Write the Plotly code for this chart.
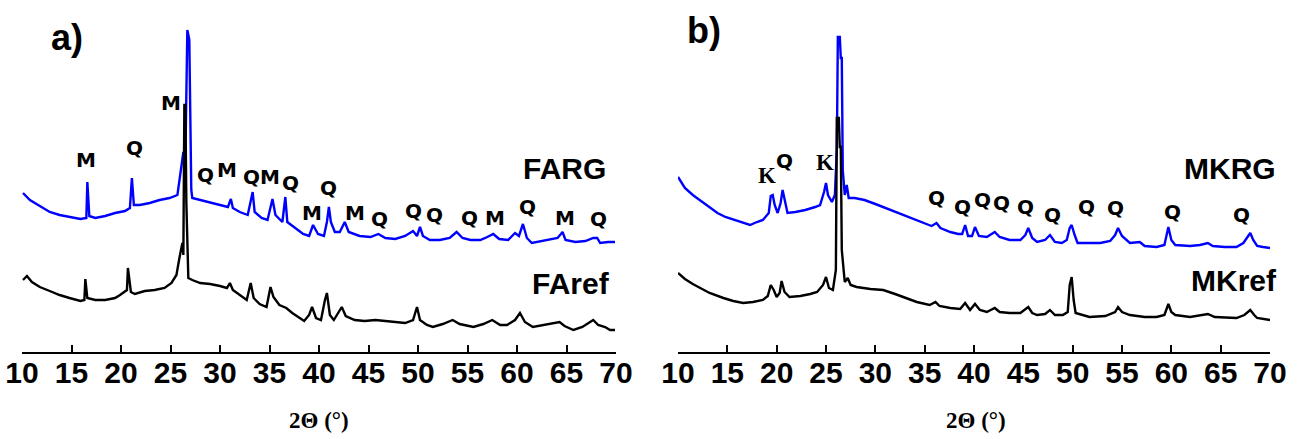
import plotly.graph_objects as go

# ---------------- data (2θ in degrees, intensity in a.u.) ----------------
farg_x = [10.1, 10.8, 11.8, 12.8, 13.8, 14.8, 15.9, 16.5, 16.6, 16.8, 17.4, 18.4, 19.4, 20.4, 20.9, 21.1, 21.3,
          21.9, 22.9, 23.9, 24.9, 25.7, 26.0, 26.3, 26.5, 26.6, 26.7, 26.9, 27.0, 27.1, 27.2, 28.0, 29.0, 30.0,
          30.8, 31.1, 31.3, 32.0, 32.8, 33.3, 33.5, 34.2, 34.8, 35.3, 35.6, 36.3, 36.6, 36.8, 37.6, 38.4, 39.0,
          39.4, 39.9, 40.5, 40.8, 41.0, 41.2, 41.6, 42.1, 42.6, 43.0, 44.1, 45.2, 46.0, 46.7, 47.7, 48.7, 49.5,
          49.9, 50.2, 50.5, 51.2, 52.2, 53.2, 53.9, 54.5, 55.3, 56.3, 57.0, 57.6, 58.2, 59.1, 59.8, 60.2, 60.6,
          61.0, 61.5, 62.5, 63.5, 64.1, 64.6, 64.9, 65.9, 66.9, 67.7, 68.1, 68.4, 69.2, 69.9]
farg_y = [159, 152, 146, 140, 137, 135, 133, 134, 170, 136, 134, 136, 139, 141, 144, 174, 147,
          147, 149, 152, 154, 157, 180, 200, 192, 252, 322, 312, 200, 162, 154, 152, 150, 147,
          145, 153, 144, 140, 137, 160, 140, 134, 132, 153, 137, 130, 155, 130, 124, 118, 116,
          127, 118, 116, 130, 145, 130, 120, 120, 130, 120, 116, 115, 118, 114, 113, 116, 121,
          116, 125, 116, 112, 112, 114, 120, 114, 112, 112, 115, 118, 113, 112, 119, 116, 128,
          114, 109, 111, 113, 114, 120, 112, 110, 111, 114, 114, 109, 110, 110]

faref_x = [10.1, 10.5, 11.0, 11.8, 12.8, 13.8, 14.8, 15.9, 16.3, 16.4, 16.6, 17.4, 18.4, 19.4, 19.9, 20.6,
           20.7, 21.0, 21.4, 22.4, 23.4, 24.4, 25.1, 25.6, 25.9, 26.2, 26.3, 26.4, 26.5, 26.6, 26.8, 27.2,
           28.0, 29.0, 30.0, 30.7, 31.0, 31.3, 32.0, 32.7, 33.1, 33.4, 34.0, 34.7, 35.1, 35.4, 36.0, 36.7,
           37.3, 38.1, 38.5, 39.0, 39.3, 39.7, 40.2, 40.6, 40.8, 41.1, 41.5, 42.3, 42.7, 43.6, 44.6, 45.7,
           46.7, 47.7, 48.7, 49.5, 49.9, 50.2, 50.9, 51.5, 52.5, 53.5, 54.2, 55.6, 56.6, 57.5, 58.3, 59.0,
           59.8, 60.3, 60.8, 61.6, 62.8, 63.8, 64.3, 64.8, 65.7, 66.6, 67.2, 67.7, 68.2, 68.9, 69.4, 69.9]
faref_y = [72, 76, 70, 65, 61, 57, 54, 51, 52, 73, 54, 52, 52, 54, 57, 62,
           84, 60, 58, 61, 62, 64, 69, 77, 94, 109, 97, 247, 247, 150, 74, 72,
           69, 68, 66, 64, 69, 62, 57, 52, 69, 54, 48, 45, 65, 55, 47, 44,
           39, 34, 31, 37, 45, 34, 32, 52, 59, 37, 32, 45, 36, 32, 31, 32,
           31, 30, 29, 32, 45, 32, 27, 25, 28, 32, 28, 25, 28, 32, 27, 27,
           32, 39, 30, 25, 27, 29, 30, 26, 22, 25, 29, 32, 27, 25, 22, 22]

mkrg_x = [10.0, 10.7, 11.5, 12.2, 13.0, 14.0, 14.8, 15.8, 16.6, 17.3, 18.0, 18.6, 19.2, 19.4, 19.6, 19.8,
          20.1, 20.4, 20.6, 20.8, 21.1, 21.9, 22.9, 23.9, 24.4, 24.8, 25.0, 25.2, 25.6, 25.9, 26.1, 26.2,
          26.4, 26.5, 26.6, 26.7, 26.9, 27.1, 27.3, 27.9, 28.9, 30.0, 31.0, 32.0, 33.0, 34.0, 35.0, 35.7,
          36.2, 36.6, 37.6, 38.4, 38.8, 39.1, 39.4, 39.8, 40.1, 40.5, 41.3, 42.1, 42.6, 43.6, 44.7, 45.2,
          45.5, 45.9, 46.4, 47.2, 47.7, 48.2, 48.9, 49.4, 49.7, 49.9, 50.2, 50.5, 51.7, 52.8, 53.8, 54.3,
          54.6, 55.0, 55.8, 56.8, 57.3, 58.5, 59.3, 59.6, 59.7, 60.0, 60.4, 61.9, 62.9, 63.7, 64.2, 65.4,
          66.6, 67.3, 67.8, 68.0, 68.3, 68.7, 69.3, 70.0]
mkrg_y = [175, 164, 157, 152, 146, 139, 135, 132, 129, 127, 130, 132, 139, 156, 157, 147,
          139, 149, 162, 152, 139, 140, 142, 145, 147, 160, 169, 157, 150, 157, 202, 315,
          315, 294, 294, 182, 157, 167, 154, 154, 152, 148, 144, 140, 136, 132, 128, 126,
          129, 124, 120, 118, 118, 127, 116, 116, 125, 116, 115, 120, 115, 112, 112, 117,
          124, 114, 110, 112, 117, 110, 109, 112, 124, 127, 117, 109, 109, 109, 111, 117,
          124, 116, 109, 110, 106, 105, 107, 120, 125, 112, 107, 106, 107, 109, 106, 105,
          105, 109, 117, 119, 112, 106, 105, 104]

mkref_x = [10.0, 10.7, 11.5, 12.2, 13.2, 14.6, 15.6, 16.6, 17.6, 18.6, 19.1, 19.4, 19.7, 20.0, 20.3, 20.5,
           20.8, 21.3, 22.4, 23.4, 24.1, 24.7, 25.0, 25.3, 25.7, 26.0, 26.1, 26.3, 26.4, 26.5, 26.6, 26.9,
           27.2, 27.5, 28.1, 29.5, 30.8, 32.0, 33.0, 34.2, 35.5, 36.1, 36.5, 37.6, 38.6, 39.1, 39.6, 40.1,
           40.6, 41.3, 42.1, 42.6, 43.6, 44.7, 45.5, 45.9, 46.4, 47.2, 47.7, 48.2, 49.0, 49.5, 49.7, 49.9,
           50.1, 50.3, 51.7, 53.3, 54.3, 54.6, 55.0, 55.8, 57.3, 58.5, 59.3, 59.7, 60.0, 60.4, 61.9, 63.7,
           64.4, 66.6, 67.4, 68.0, 68.4, 68.7, 70.0]
mkref_y = [79, 73, 68, 64, 59, 54, 51, 49, 50, 52, 56, 67, 62, 55, 59, 71,
           60, 55, 56, 58, 60, 67, 75, 64, 62, 82, 234, 234, 205, 205, 102, 70,
           74, 67, 65, 63, 62, 58, 54, 50, 47, 50, 46, 44, 43, 49, 42, 48,
           42, 40, 44, 40, 39, 39, 45, 39, 37, 38, 42, 37, 37, 40, 67, 75,
           52, 39, 35, 36, 40, 45, 40, 37, 35, 35, 37, 48, 40, 37, 35, 38,
           35, 34, 37, 42, 37, 34, 32]

# phase labels: text, 2θ, height (a.u.)
left_labels = ["M", "Q", "M", "Q", "M", "Q", "M", "Q", "M", "Q", "M", "Q", "Q", "Q", "Q", "M", "Q", "M", "Q"]
left_lab_x = [16.5, 21.4, 25.0, 28.5, 30.7, 33.2, 35.1, 37.1, 39.3, 41.0, 43.6, 46.1, 49.5, 51.7, 55.2, 57.8, 61.1, 64.8, 68.2]
left_lab_y = [192, 204, 249, 177, 182, 175, 175, 169, 139, 164, 139, 133, 141, 137, 134, 134, 145, 134, 133]

right_labels = ["K", "Q", "K", "Q", "Q", "Q", "Q", "Q", "Q", "Q", "Q", "Q", "Q"]
right_lab_x = [19.0, 20.8, 24.9, 36.2, 38.8, 40.9, 42.8, 45.2, 48.0, 51.4, 54.3, 60.1, 67.1]
right_lab_y = [177, 191, 190, 154, 145, 152, 149, 145, 137, 145, 144, 140, 137]

tick_vals = [10, 15, 20, 25, 30, 35, 40, 45, 50, 55, 60, 65, 70]
axis_title = "2Θ (°)"

BLUE = "#0000ff"
BLACK = "#000000"

fig = go.Figure()
fig.add_trace(go.Scatter(x=farg_x, y=farg_y, mode="lines", line=dict(color=BLUE, width=2.4), xaxis="x", yaxis="y"))
fig.add_trace(go.Scatter(x=faref_x, y=faref_y, mode="lines", line=dict(color=BLACK, width=2.4), xaxis="x", yaxis="y"))
fig.add_trace(go.Scatter(x=mkrg_x, y=mkrg_y, mode="lines", line=dict(color=BLUE, width=2.4), xaxis="x2", yaxis="y2"))
fig.add_trace(go.Scatter(x=mkref_x, y=mkref_y, mode="lines", line=dict(color=BLACK, width=2.4), xaxis="x2", yaxis="y2"))

W, H = 1298, 439
ydom = [(H - 352) / H, 1.0]
tickfont = dict(family="Liberation Sans, Arial", size=30, color="black", weight="bold")
xcommon = dict(range=[10, 70], tickvals=tick_vals, ticks="inside", ticklen=7, tickwidth=2, tickcolor="black",
               showline=True, linewidth=2, linecolor="black", showgrid=False, zeroline=False,
               tickfont=tickfont, ticklabelstandoff=-7, automargin=False, fixedrange=True)
ycommon = dict(range=[0, 352], visible=False, showgrid=False, zeroline=False, fixedrange=True, automargin=False)

fig.update_layout(
    width=W, height=H, margin=dict(l=0, r=0, t=0, b=0, pad=0),
    paper_bgcolor="white", plot_bgcolor="white", showlegend=False,
    xaxis=dict(domain=[22 / W, 616 / W], anchor="y", **xcommon),
    yaxis=dict(domain=ydom, anchor="x", **ycommon),
    xaxis2=dict(domain=[678 / W, 1270 / W], anchor="y2", **xcommon),
    yaxis2=dict(domain=ydom, anchor="x2", **ycommon),
)

ann = []
sans_b = "DejaVu Sans"
for t, x, y in zip(left_labels, left_lab_x, left_lab_y):
    ann.append(dict(text="<b>%s</b>" % t, x=x, y=y, xref="x", yref="y", showarrow=False,
                    font=dict(family=sans_b, size=20, color="black"), xanchor="center", yanchor="middle"))
for t, x, y in zip(right_labels, right_lab_x, right_lab_y):
    fam = "Liberation Serif" if t == "K" else sans_b
    sz = 23 if t == "K" else 20
    ann.append(dict(text="<b>%s</b>" % t, x=x, y=y, xref="x2", yref="y2", showarrow=False,
                    font=dict(family=fam, size=sz, color="black"), xanchor="center", yanchor="middle"))

name_font = dict(family="Liberation Sans", size=30, color="black")
for t, x, y, xr, yr in [("FARG", 64.8, 184, "x", "y"), ("FAref", 65.5, 69, "x", "y"),
                        ("MKRG", 65.9, 184, "x2", "y2"), ("MKref", 66.4, 72, "x2", "y2")]:
    ann.append(dict(text="<b>%s</b>" % t, x=x, y=y, xref=xr, yref=yr, showarrow=False,
                    font=name_font, xanchor="center", yanchor="middle"))

for t, px, py in [("a)", 67, 37), ("b)", 704, 30)]:
    ann.append(dict(text="<b>%s</b>" % t, x=px / W, y=1 - py / H, xref="paper", yref="paper", showarrow=False,
                    font=dict(family="Liberation Sans", size=36, color="black"), xanchor="center", yanchor="middle"))

for px in [319, 976]:
    ann.append(dict(text="<b>%s</b>" % axis_title, x=px / W, y=1 - 420 / H, xref="paper", yref="paper", showarrow=False,
                    font=dict(family="Liberation Serif", size=23, color="black"), xanchor="center", yanchor="middle"))

fig.update_layout(annotations=ann)
fig.write_html("out.html")
